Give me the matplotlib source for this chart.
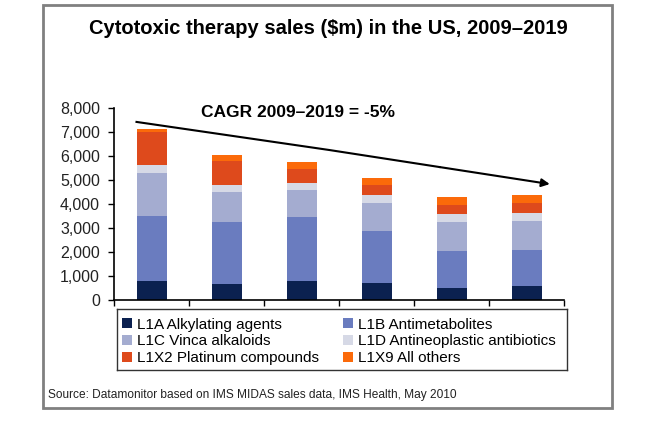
import matplotlib
matplotlib.use("Agg")
import matplotlib.pyplot as plt
from matplotlib.patches import Rectangle
from matplotlib.ticker import FuncFormatter

plt.rcParams['font.family'] = ['Liberation Sans', 'DejaVu Sans']

years = ["2009", "2011", "2013", "2015", "2017", "2019"]
series_names = ["L1A Alkylating agents", "L1B Antimetabolites", "L1C Vinca alkaloids",
                "L1D Antineoplastic antibiotics", "L1X2 Platinum compounds", "L1X9 All others"]
l1a = [800, 650, 800, 720, 510, 600]
l1b = [2700, 2600, 2670, 2170, 1540, 1500]
l1c = [1790, 1240, 1110, 1170, 1190, 1180]
l1d = [330, 310, 310, 330, 360, 360]
l1x2 = [1360, 990, 570, 400, 350, 420]
l1x9 = [140, 240, 290, 310, 350, 330]
colors = ["#0b2150", "#6a7cbf", "#a4acd0", "#d6d9e6", "#de4a1c", "#fb6a0a"]

trend_x = [-0.2, 2.37, 3.84, 5.31]
trend_y = [7420, 6250, 5540, 4830]

W, H = 646, 422
fig = plt.figure(figsize=(W/100, H/100), dpi=100)
fig.patches.append(Rectangle((43/W, 1-408/H), (612-43)/W, (408-5)/H,
                             transform=fig.transFigure, fill=False,
                             edgecolor="#808080", linewidth=2))

ax = fig.add_axes([114/W, 1-300/H, (564-114)/W, (300-108)/H])
data = [l1a, l1b, l1c, l1d, l1x2, l1x9]
x = list(range(len(years)))
bottom = [0]*len(years)
handles = []
for vals, c, name in zip(data, colors, series_names):
    h = ax.bar(x, vals, width=0.4, bottom=bottom, color=c, label=name, linewidth=0)
    handles.append(h)
    bottom = [b+v for b, v in zip(bottom, vals)]

ax.set_xlim(-0.5, 5.5)
ax.set_ylim(0, 8000)
ax.set_yticks(range(0, 8001, 1000))
ax.yaxis.set_major_formatter(FuncFormatter(lambda v, p: f"{int(v):,}"))
ax.set_xticks([i-0.5 for i in range(7)])
ax.set_xticklabels([])
ax.tick_params(axis='both', direction='out', length=4, width=1, color='black')
ax.tick_params(axis='y', labelsize=11.5, labelcolor='#222222', pad=6)
for s in ['top', 'right']:
    ax.spines[s].set_visible(False)
for s in ['left', 'bottom']:
    ax.spines[s].set_linewidth(1.2)

ax.plot(trend_x[:-1], trend_y[:-1], color="black", lw=1.5, clip_on=False)
ax.annotate("", xy=(trend_x[-1], trend_y[-1]), xytext=(trend_x[-2], trend_y[-2]),
            arrowprops=dict(arrowstyle="-|>", color="black", lw=1.5, mutation_scale=12,
                            shrinkA=0, shrinkB=0))

fig.text(298/W, 1-112/H, "CAGR 2009\u20132019 = -5%", fontsize=12.5, fontweight='bold',
         ha='center', va='center')
fig.text(328/W, 1-28/H, "Cytotoxic therapy sales ($m) in the US, 2009\u20132019",
         fontsize=14.5, fontweight='bold', ha='center', va='center')

leg_ax = fig.add_axes([117/W, 1-370/H, (567-117)/W, (370-309)/H])
leg_ax.set_xticks([]); leg_ax.set_yticks([])
for s in leg_ax.spines.values():
    s.set_linewidth(1.0)
    s.set_color('#333333')
order = [0, 2, 4, 1, 3, 5]
leg = leg_ax.legend([handles[i] for i in order], [series_names[i] for i in order],
                    ncol=2, loc='upper left', bbox_to_anchor=(0.012, 0.86), frameon=False,
                    fontsize=11, handlelength=0.6, handleheight=0.6, handletextpad=0.35,
                    columnspacing=1.6, labelspacing=0.18, borderaxespad=0, borderpad=0)

fig.text(48/W, 1-395/H, "Source: Datamonitor based on IMS MIDAS sales data, IMS Health, May 2010",
         fontsize=8.6, ha='left', va='center', color='#222222')

fig.savefig("out.png", dpi=100)
